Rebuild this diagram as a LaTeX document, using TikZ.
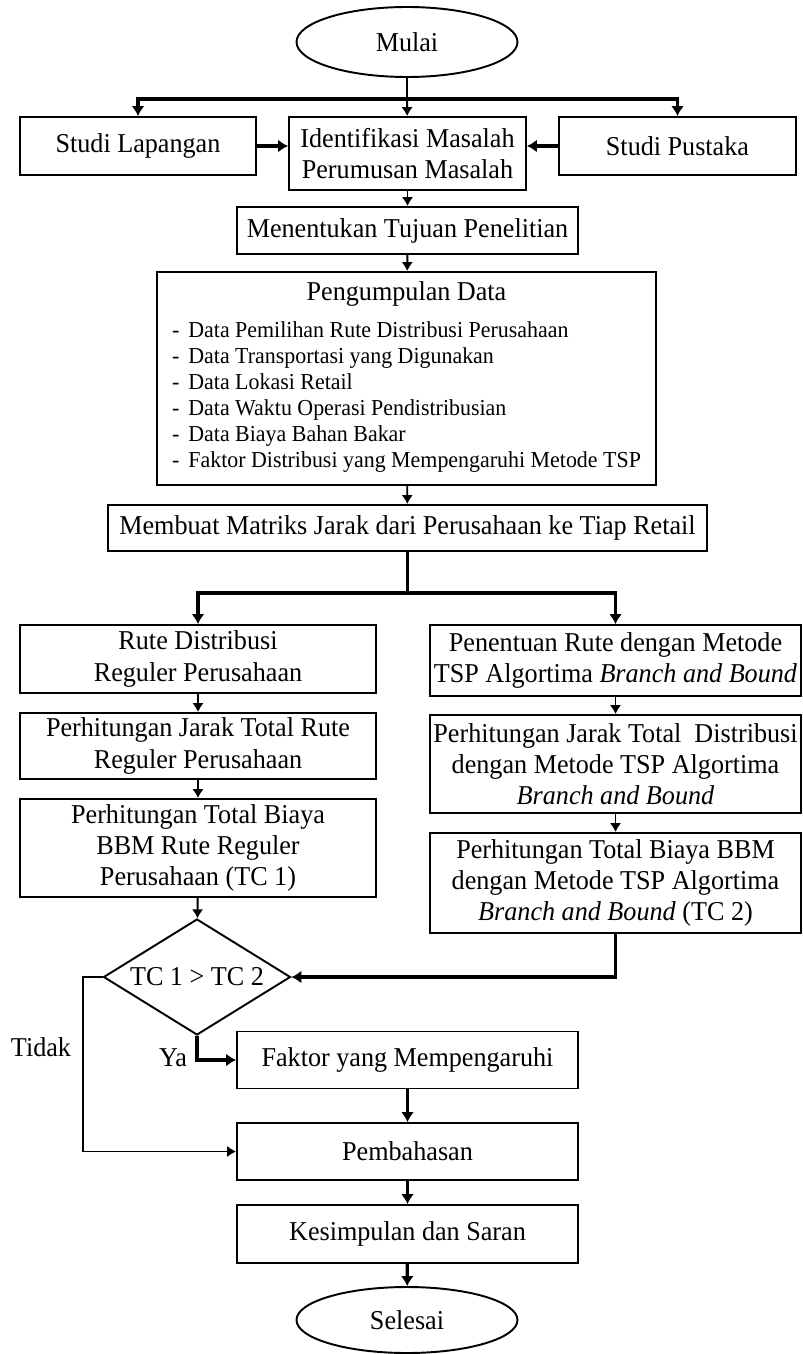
\documentclass[tikz,border=0pt]{standalone}
\usepackage{fontspec}
\setmainfont[FakeStretch=0.96]{Liberation Serif}
\usetikzlibrary{shapes.geometric,arrows.meta}

\begin{document}
\begin{tikzpicture}[
        auto,
        semithick % line style
    ]
    \tikzstyle{proc box}=[
        draw = black,
        line width = 1.1pt,
        fill = white,
        rectangle,
        align = center,
        inner xsep = 2pt,
        inner ysep = 1pt,
        font = \fontsize{15.5}{17.8}\selectfont
    ]

    \tikzstyle{terminal}=[
        draw = black,
        line width = 1.1pt,
        fill = white,
        ellipse,
        minimum width = 4.42cm,
        font = \fontsize{15.5}{17.8}\selectfont
    ]

    \tikzstyle{decision}=[
        draw = black,
        line width = 1.1pt,
        fill = white,
        diamond,
        aspect = 1.6,
        inner sep = 0pt,
        minimum width = 3.74cm,
        minimum height = 2.32cm,
        font = \fontsize{15.5}{17.8}\selectfont
    ]

    \tikzstyle{thin arrow}=[-{Latex[length=1.8mm,width=2.3mm]}, line width=1.1pt]
    \tikzstyle{thick arrow}=[-{Latex[length=2mm,width=2.6mm]}, line width=1.9pt]

    \useasboundingbox (0,0) rectangle (16.06,-27.08);

	\node[terminal, minimum height=1.4cm] (mulai) at (8.14,-0.84) {Mulai};
	\node[proc box, minimum width=4.72cm, minimum height=1.16cm] (lap)   at (2.76,-2.92)  {Studi Lapangan};
	\node[proc box, minimum width=4.74cm, minimum height=1.46cm] (ident) at (8.15,-3.07)  {Identifikasi Masalah\\Perumusan Masalah};
	\node[proc box, minimum width=4.74cm, minimum height=1.16cm] (pus)   at (13.55,-2.92) {Studi Pustaka};
	\node[proc box, minimum width=6.82cm, minimum height=0.94cm] (tujuan) at (8.15,-4.61) {Menentukan Tujuan Penelitian};
	\node[proc box, minimum width=9.98cm, minimum height=4.26cm] (data)  at (8.13,-7.57)  {Pengumpulan Data\\[0.23cm]
	    {\fontsize{13}{14.8}\selectfont
	    \begin{tabular}{@{}l@{\hspace{0.18cm}}l@{}}
	    - & Data Pemilihan Rute Distribusi Perusahaan\\
	    - & Data Transportasi yang Digunakan\\
	    - & Data Lokasi Retail\\
	    - & Data Waktu Operasi Pendistribusian\\
	    - & Data Biaya Bahan Bakar\\
	    - & Faktor Distribusi yang Mempengaruhi Metode TSP
	    \end{tabular}}};
	\node[proc box, minimum width=11.98cm, minimum height=0.92cm] (matriks) at (8.15,-10.56) {Membuat Matriks Jarak dari Perusahaan ke Tiap Retail};

	\node[proc box, minimum width=7.12cm, minimum height=1.36cm] (ruteL)  at (3.96,-13.18) {Rute Distribusi\\Reguler Perusahaan};
	\node[proc box, minimum width=7.12cm, minimum height=1.32cm] (jarakL) at (3.96,-14.92) {Perhitungan Jarak Total Rute\\Reguler Perusahaan};
	\node[proc box, minimum width=7.12cm, minimum height=1.96cm] (biayaL) at (3.96,-16.96) {Perhitungan Total Biaya\\BBM Rute Reguler\\Perusahaan (TC 1)};
	\node[proc box, minimum width=7.42cm, minimum height=1.42cm] (ruteR)  at (12.31,-13.21) {Penentuan Rute dengan Metode\\TSP Algortima \textit{Branch and Bound}};
	\node[proc box, minimum width=7.42cm, minimum height=1.96cm] (jarakR) at (12.31,-15.28) {Perhitungan Jarak Total\ \ Distribusi\\dengan Metode TSP Algortima\\\textit{Branch and Bound}};
	\node[proc box, minimum width=7.42cm, minimum height=2.0cm]  (biayaR) at (12.31,-17.66) {Perhitungan Total Biaya BBM\\dengan Metode TSP Algortima\\\textit{Branch and Bound} (TC 2)};

	\node[decision] (tc) at (3.94,-19.54) {TC 1 > TC 2};
	\node[proc box, minimum width=6.82cm, minimum height=1.14cm] (faktor) at (8.15,-21.2) {Faktor yang Mempengaruhi};
	\node[proc box, minimum width=6.82cm, minimum height=1.14cm] (bahas)  at (8.15,-23.03) {Pembahasan};
	\node[proc box, minimum width=6.82cm, minimum height=1.16cm] (simpul) at (8.15,-24.68) {Kesimpulan dan Saran};
	\node[terminal, minimum height=1.32cm] (selesai) at (8.14,-26.4) {Selesai};

	\node[font=\fontsize{15.5}{17.8}\selectfont] (ya)    at (3.46,-21.16) {Ya};
	\node[font=\fontsize{15.5}{17.8}\selectfont] (tidak) at (0.82,-20.94) {Tidak};

	\coordinate (split1) at (8.14,-1.98);
	\coordinate (split2) at (8.15,-11.86);
	\coordinate (bend)   at (1.66,-19.54);

	\draw[line width=1.1pt] (mulai) -- (split1);
	\draw[line width=1.6pt] (lap |- split1) -- (pus |- split1);
	\draw[thick arrow] (split1) -| (lap);
	\draw[thick arrow] (split1) -| (pus);
	\path[thin arrow] (split1) edge (ident);
	\path[thick arrow] (lap) edge (lap -| ident.west);
	\path[thick arrow] (pus) edge (pus -| ident.east);
	\path[thin arrow] (ident) edge (tujuan);
	\path[thin arrow] (tujuan) edge (data);
	\path[thin arrow] (data) edge (matriks);

	\draw[line width=1.9pt] (matriks) -- (split2);
	\draw[thick arrow] (split2) -| (ruteL);
	\draw[thick arrow] (split2) -| (ruteR);
	\path[thin arrow] (ruteL) edge (jarakL);
	\path[thin arrow] (jarakL) edge (biayaL);
	\path[thin arrow] (biayaL) edge (tc);
	\path[thin arrow] (ruteR) edge (jarakR);
	\path[thin arrow] (jarakR) edge (biayaR);

	\draw[thick arrow] (biayaR) |- (tc);
	\draw[thin arrow] (tc.west) -- (bend) |- (bahas);
	\draw[thick arrow] (tc) |- (faktor);
	\path[thick arrow] (faktor) edge (bahas);
	\path[thick arrow] (bahas) edge (simpul);
	\path[thick arrow] (simpul) edge (selesai);

	\end{tikzpicture}
\end{document}
